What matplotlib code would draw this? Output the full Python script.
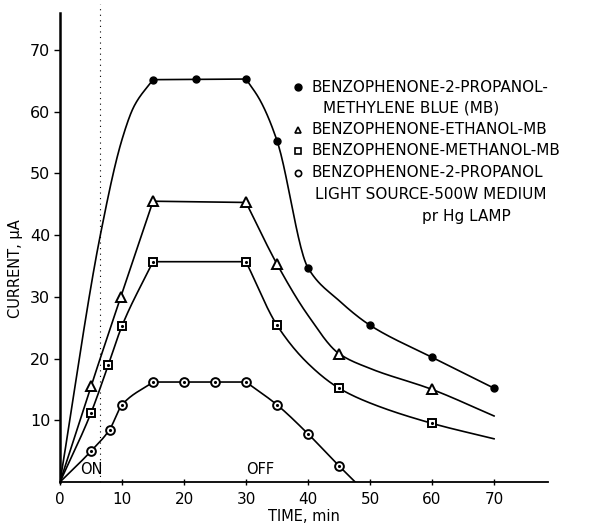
import matplotlib
matplotlib.use("Agg")
import matplotlib.pyplot as plt
import numpy as np

# marker data (time in min, current in uA)
mb_prop_t = [15, 22, 30, 35, 40, 50, 60, 70]
mb_prop_i = [65.2, 65.3, 65.3, 55.3, 34.7, 25.4, 20.2, 15.2]
eth_t = [5, 9.8, 15, 30, 35, 45, 60]
eth_i = [15.5, 30.0, 45.5, 45.3, 35.3, 20.8, 15.0]
meth_t = [5, 7.8, 10, 15, 30, 35, 45, 60]
meth_i = [11.2, 19.0, 25.3, 35.7, 35.7, 25.4, 15.2, 9.5]
prop_t = [5, 8, 10, 15, 20, 25, 30, 35, 40, 45]
prop_i = [5.0, 8.5, 12.5, 16.2, 16.2, 16.2, 16.2, 12.5, 7.8, 2.6]

# hand-drawn curves: rise, plateau, decay
mb_rise_t = [0, 6.5, 10, 12, 15]
mb_rise_i = [0, 40, 55.5, 61, 65.2]
mb_decay_t = [30, 32.3, 35, 40, 45, 50, 60, 70]
mb_decay_i = [65.3, 61.8, 55.3, 34.7, 29.4, 25.4, 20.2, 15.2]
eth_rise_t = [0, 5, 9.8, 15]
eth_rise_i = [0, 15.5, 30, 45.5]
eth_decay_t = [30, 35, 40, 45, 50, 60, 70]
eth_decay_i = [45.3, 35.3, 27.0, 20.8, 18.4, 15.0, 10.7]
meth_rise_t = [0, 5, 7.8, 10, 15]
meth_rise_i = [0, 11.2, 19, 25.3, 35.7]
meth_decay_t = [30, 35, 40, 45, 50, 60, 70]
meth_decay_i = [35.7, 25.4, 19.2, 15.2, 12.8, 9.5, 7.0]
prop_rise_t = [0, 5, 8, 10, 15]
prop_rise_i = [0, 5, 8.5, 12.5, 16.2]
prop_decay_t = [30, 35, 40, 45, 47.6]
prop_decay_i = [16.2, 12.5, 7.8, 2.6, 0]


def smooth(x, y, n=200):
    # monotone cubic (Fritsch-Carlson) to draw the pen curve through the points
    x = np.asarray(x, float)
    y = np.asarray(y, float)
    h = np.diff(x)
    d = np.diff(y) / h
    m = np.zeros_like(y)
    m[0], m[-1] = d[0], d[-1]
    for k in range(1, len(x) - 1):
        if d[k - 1] * d[k] <= 0:
            m[k] = 0
        else:
            w1 = 2 * h[k] + h[k - 1]
            w2 = h[k] + 2 * h[k - 1]
            m[k] = (w1 + w2) / (w1 / d[k - 1] + w2 / d[k])
    xs = np.linspace(x[0], x[-1], n)
    idx = np.clip(np.searchsorted(x, xs) - 1, 0, len(x) - 2)
    t = (xs - x[idx]) / h[idx]
    h00 = 2 * t**3 - 3 * t**2 + 1
    h10 = t**3 - 2 * t**2 + t
    h01 = -2 * t**3 + 3 * t**2
    h11 = t**3 - t**2
    ys = h00 * y[idx] + h10 * h[idx] * m[idx] + h01 * y[idx + 1] + h11 * h[idx] * m[idx + 1]
    return xs, ys


plt.rcParams['font.family'] = ['DejaVu Sans']

fig = plt.figure(figsize=(5.9, 5.27), dpi=100)
ax = fig.add_axes([0.1017, 0.0854, 0.8271, 0.8899])

curves = [
    (mb_rise_t, mb_rise_i, mb_decay_t, mb_decay_i),
    (eth_rise_t, eth_rise_i, eth_decay_t, eth_decay_i),
    (meth_rise_t, meth_rise_i, meth_decay_t, meth_decay_i),
    (prop_rise_t, prop_rise_i, prop_decay_t, prop_decay_i),
]
for rt, ri, dt, di in curves:
    xs1, ys1 = smooth(rt, ri)
    xs2, ys2 = smooth(dt, di)
    xs = np.concatenate([xs1, xs2])
    ys = np.concatenate([ys1, ys2])
    ax.plot(xs, ys, color='black', lw=1.2)

ax.plot(mb_prop_t, mb_prop_i, 'o', color='black', ms=5)
ax.plot(eth_t, eth_i, '^', mfc='white', mec='black', mew=1.4, ms=7)
ax.plot(meth_t, meth_i, 's', mfc='white', mec='black', mew=1.4, ms=6.3)
ax.plot(meth_t, meth_i, '.', color='black', ms=2.5)
ax.plot(prop_t, prop_i, 'o', mfc='white', mec='black', mew=1.4, ms=6.3)
ax.plot(prop_t, prop_i, '.', color='black', ms=2.5)

ax.axvline(6.5, color='black', lw=0.8, ls=(0, (1, 4)), ymax=1.02, clip_on=False)

ax.set_xlim(0, 78.7)
ax.set_ylim(0, 76)
ax.set_xticks([0, 10, 20, 30, 40, 50, 60, 70])
ax.set_yticks([10, 20, 30, 40, 50, 60, 70])
ax.spines['top'].set_visible(False)
ax.spines['right'].set_visible(False)
ax.spines['left'].set_linewidth(1.8)
ax.spines['bottom'].set_linewidth(1.3)
ax.tick_params(axis='y', direction='out', length=4, width=1, labelsize=11.5, pad=3)
ax.tick_params(axis='x', direction='inout', length=5, width=1, labelsize=11, pad=5)

ax.set_xlabel('TIME, min', fontsize=10.5, labelpad=1)
ax.set_ylabel('CURRENT, \u03bcA', fontsize=10.5, labelpad=6)
ax.yaxis.set_label_coords(-0.075, 0.455)

ax.text(3.2, 2.0, 'ON', fontsize=10.5, va='center')
ax.text(30, 2.0, 'OFF', fontsize=10.5, va='center')

# legend block
fs = 11
lx = 40.6
ax.plot(lx - 2.2, 64.0, 'o', color='black', ms=5)
ax.text(lx, 64.0, 'BENZOPHENONE-2-PROPANOL-', fontsize=fs, va='center')
ax.text(lx + 1.8, 60.6, 'METHYLENE BLUE (MB)', fontsize=fs, va='center')
ax.plot(lx - 2.2, 57.1, '^', mfc='white', mec='black', mew=1.2, ms=5)
ax.text(lx, 57.1, 'BENZOPHENONE-ETHANOL-MB', fontsize=fs, va='center')
ax.plot(lx - 2.2, 53.7, 's', mfc='white', mec='black', mew=1.2, ms=4.5)
ax.text(lx, 53.7, 'BENZOPHENONE-METHANOL-MB', fontsize=fs, va='center')
ax.plot(lx - 2.2, 50.1, 'o', mfc='white', mec='black', mew=1.2, ms=4.5)
ax.text(lx, 50.1, 'BENZOPHENONE-2-PROPANOL', fontsize=fs, va='center')
ax.text(lx + 0.5, 46.6, 'LIGHT SOURCE-500W MEDIUM', fontsize=fs, va='center')
ax.text(lx + 17.8, 43.0, 'pr Hg LAMP', fontsize=fs, va='center')

fig.savefig('out.png', dpi=100)
